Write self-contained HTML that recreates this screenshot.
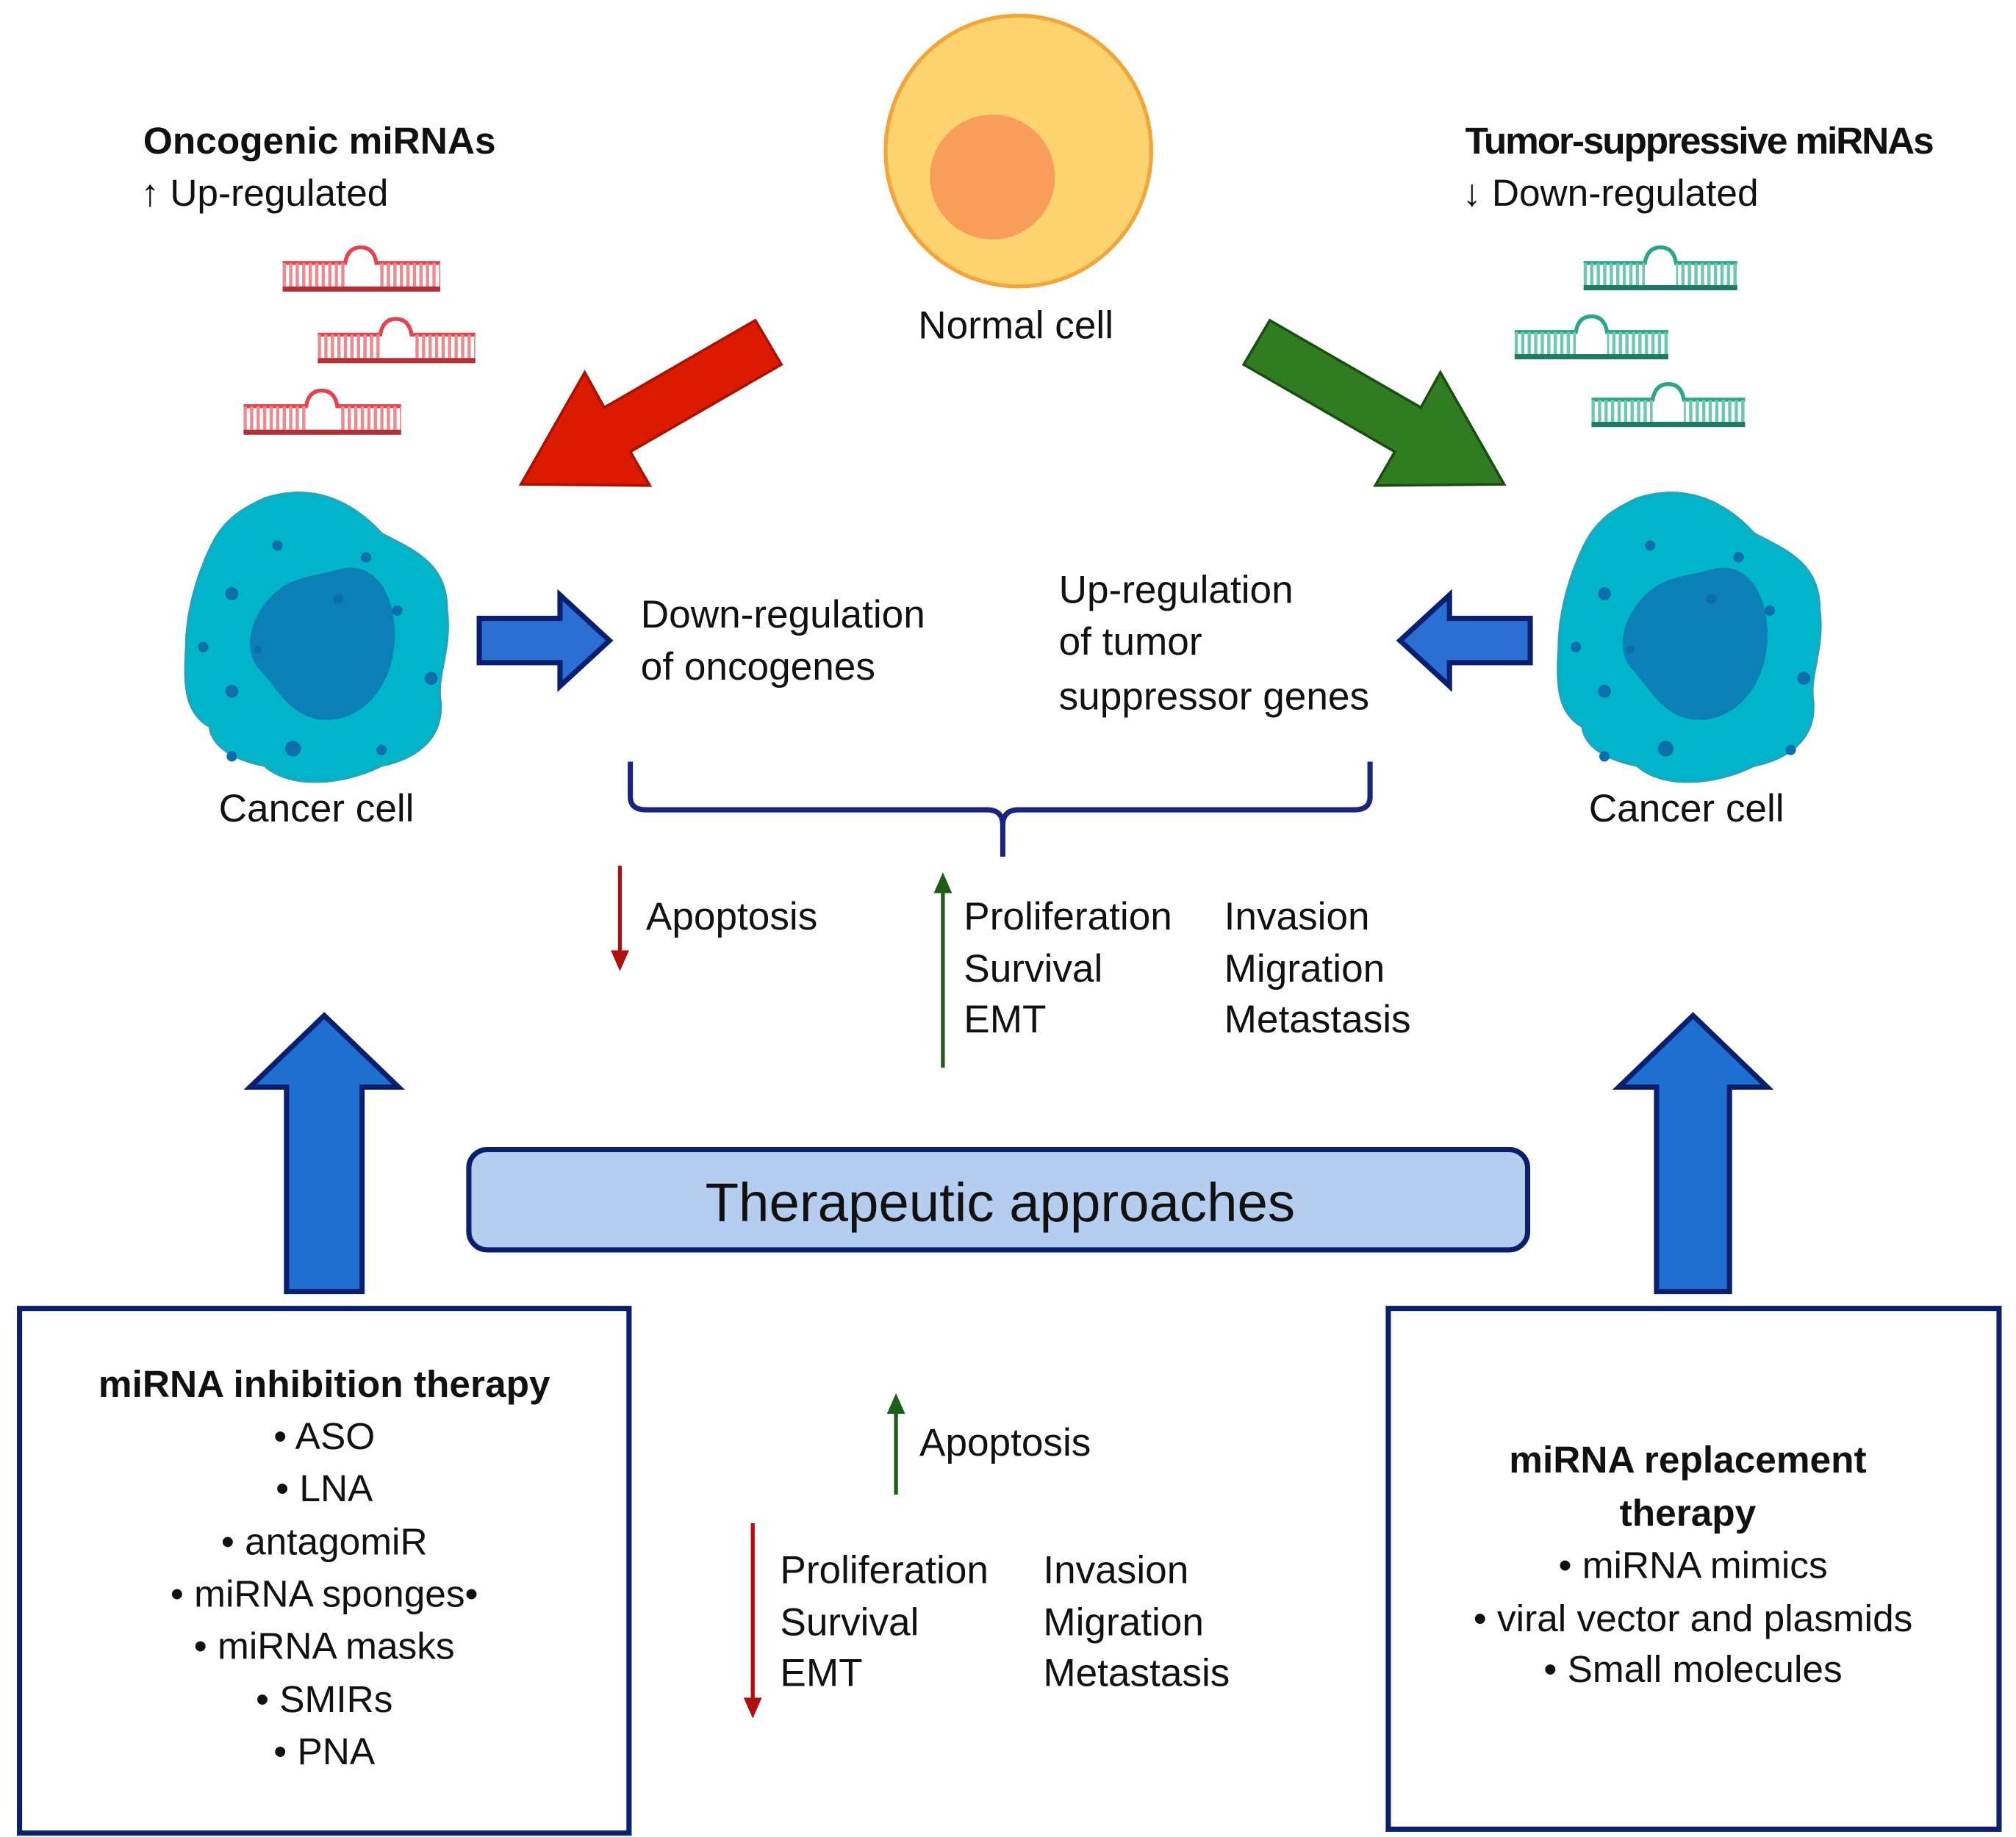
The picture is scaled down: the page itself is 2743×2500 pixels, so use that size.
<!DOCTYPE html>
<html><head><meta charset="utf-8"><style>
html,body{margin:0;padding:0;background:#fff}
svg{display:block}
text{font-family:"Liberation Sans",sans-serif;fill:#111}
</style></head><body>
<svg width="2743" height="2500" viewBox="0 0 1548 1411" preserveAspectRatio="none" xmlns="http://www.w3.org/2000/svg">
<defs>
<g id="hpR">
  <path d="M0 6 H48 Q50 -6 60 -6 Q70 -6 72 6 H121" fill="none" stroke="#e0454d" stroke-width="3"/>
  <rect x="0" y="6" width="48" height="18" fill="url(#stR)"/>
  <rect x="73" y="6" width="48" height="18" fill="url(#stR)"/>
  <rect x="0" y="24" width="121" height="4" fill="#b03038"/>
</g>
<pattern id="stR" width="5" height="20" patternUnits="userSpaceOnUse"><rect width="2.5" height="20" fill="#ec8a90"/></pattern>
<g id="hpG">
  <path d="M0 6 H47 Q49 -6 59 -6 Q69 -6 71 6 H118" fill="none" stroke="#2aa58a" stroke-width="3"/>
  <rect x="0" y="6" width="47" height="17" fill="url(#stG)"/>
  <rect x="71" y="6" width="47" height="17" fill="url(#stG)"/>
  <rect x="0" y="23" width="118" height="4" fill="#1d7a63"/>
</g>
<pattern id="stG" width="5" height="20" patternUnits="userSpaceOnUse"><rect width="2.5" height="20" fill="#6cc8b0"/></pattern>
</defs>

<!-- Normal cell -->
<ellipse cx="782" cy="116" rx="102" ry="104" fill="#fdd36f" stroke="#f3a53a" stroke-width="3"/>
<circle cx="762" cy="136" r="48" fill="#f99d5a"/>
<text x="780" y="260" font-size="30" text-anchor="middle">Normal cell</text>

<!-- Headers -->
<text x="110" y="118" font-size="29" font-weight="bold">Oncogenic miRNAs</text>
<text x="108" y="158" font-size="29">↑ Up-regulated</text>
<text x="1125" y="118" font-size="29" font-weight="bold" letter-spacing="-1.2">Tumor-suppressive miRNAs</text>
<text x="1123" y="158" font-size="29">↓ Down-regulated</text>

<!-- hairpins -->
<use href="#hpR" x="217" y="196"/>
<use href="#hpR" x="244" y="251"/>
<use href="#hpR" x="187" y="306"/>
<use href="#hpG" x="1216" y="196"/>
<use href="#hpG" x="1163" y="249"/>
<use href="#hpG" x="1222" y="301"/>

<!-- big diagonal arrows -->
<polygon points="580,246 600,280 484,347 499,373 400,372 449,286 464,313" fill="#dc1a00" stroke="#a81200" stroke-width="2"/>
<polygon points="975,246 955,280 1071,347 1056,373 1155,372 1106,286 1091,313" fill="#2f7d20" stroke="#1b4d12" stroke-width="2"/>

<!-- cancer cells -->
<g transform="translate(243,488)">
  <path d="M-40 -105 C0 -118 30 -100 50 -78 C75 -65 100 -55 100 -20 C104 10 92 30 95 50 C98 80 75 95 50 100 C20 115 -20 118 -40 100 C-65 95 -80 85 -82 70 C-100 60 -102 40 -100 10 C-100 -20 -90 -50 -80 -70 C-70 -90 -55 -98 -40 -105 Z" fill="#00b5c9" stroke="#20a6bc" stroke-width="2"/>
  <path d="M15 -50 C45 -60 62 -30 60 5 C58 40 35 65 8 65 C-20 65 -30 40 -45 25 C-60 5 -45 -25 -25 -38 C-10 -46 0 -46 15 -50 Z" fill="#0a80b7"/>
  <g fill="#0b6fae"><circle cx="-30" cy="-69" r="4"/><circle cx="38" cy="-60" r="4"/><circle cx="-65" cy="-32" r="5"/><circle cx="17" cy="-28" r="4"/><circle cx="62" cy="-19" r="4"/><circle cx="-87" cy="9" r="4"/><circle cx="-45" cy="11" r="3"/><circle cx="88" cy="33" r="5"/><circle cx="-65" cy="43" r="5"/><circle cx="-65" cy="93" r="4"/><circle cx="-18" cy="87" r="6"/><circle cx="50" cy="88" r="4"/></g>
</g>
<g transform="translate(1297,488)">
  <path d="M-40 -105 C0 -118 30 -100 50 -78 C75 -65 100 -55 100 -20 C104 10 92 30 95 50 C98 80 75 95 50 100 C20 115 -20 118 -40 100 C-65 95 -80 85 -82 70 C-100 60 -102 40 -100 10 C-100 -20 -90 -50 -80 -70 C-70 -90 -55 -98 -40 -105 Z" fill="#00b5c9" stroke="#20a6bc" stroke-width="2"/>
  <path d="M15 -50 C45 -60 62 -30 60 5 C58 40 35 65 8 65 C-20 65 -30 40 -45 25 C-60 5 -45 -25 -25 -38 C-10 -46 0 -46 15 -50 Z" fill="#0a80b7"/>
  <g fill="#0b6fae"><circle cx="-30" cy="-69" r="4"/><circle cx="38" cy="-60" r="4"/><circle cx="-65" cy="-32" r="5"/><circle cx="17" cy="-28" r="4"/><circle cx="62" cy="-19" r="4"/><circle cx="-87" cy="9" r="4"/><circle cx="-45" cy="11" r="3"/><circle cx="88" cy="33" r="5"/><circle cx="-65" cy="43" r="5"/><circle cx="-65" cy="93" r="4"/><circle cx="-18" cy="87" r="6"/><circle cx="78" cy="88" r="4"/></g>
</g>
<text x="243" y="631" font-size="30" text-anchor="middle">Cancer cell</text>
<text x="1295" y="631" font-size="30" text-anchor="middle">Cancer cell</text>

<!-- small blue arrows -->
<polygon points="368,475 430,475 430,457 468,492 430,527 430,509 368,509" fill="#2b6fd5" stroke="#0a1f6e" stroke-width="4"/>
<polygon points="1175,475 1113,475 1113,457 1075,492 1113,527 1113,509 1175,509" fill="#2b6fd5" stroke="#0a1f6e" stroke-width="4"/>

<text font-size="30"><tspan x="492" y="482">Down-regulation</tspan><tspan x="492" y="522">of oncogenes</tspan></text>
<text font-size="30"><tspan x="813" y="463">Up-regulation</tspan><tspan x="813" y="503">of tumor</tspan><tspan x="813" y="545">suppressor genes</tspan></text>

<!-- brace -->
<path d="M484 585 V612 Q484 622 496 622 H758 Q770 622 770 634 V658 M770 634 Q770 622 782 622 H1040 Q1052 622 1052 612 V585" fill="none" stroke="#1a237e" stroke-width="4"/>

<!-- upper effects -->
<line x1="476" y1="665" x2="476" y2="735" stroke="#b01010" stroke-width="3"/>
<polygon points="469,730 483,730 476,746" fill="#b01010"/>
<text x="496" y="714" font-size="30">Apoptosis</text>
<line x1="724" y1="820" x2="724" y2="682" stroke="#1e5e1a" stroke-width="3"/>
<polygon points="717,686 731,686 724,670" fill="#1e5e1a"/>
<text font-size="30"><tspan x="740" y="714">Proliferation</tspan><tspan x="740" y="754">Survival</tspan><tspan x="740" y="793">EMT</tspan></text>
<text font-size="30"><tspan x="940" y="714">Invasion</tspan><tspan x="940" y="754">Migration</tspan><tspan x="940" y="793">Metastasis</tspan></text>

<!-- big up arrows -->
<polygon points="220,992 220,835 192,835 249,780 306,835 278,835 278,992" fill="#1f6fd0" stroke="#0a1f6e" stroke-width="4"/>
<polygon points="1272,992 1272,835 1243,835 1300,780 1357,835 1328,835 1328,992" fill="#1f6fd0" stroke="#0a1f6e" stroke-width="4"/>

<!-- therapeutic box -->
<rect x="360" y="883" width="813" height="77" rx="14" fill="#b5cdee" stroke="#0a1f6e" stroke-width="4"/>
<text x="768" y="938" font-size="42" text-anchor="middle">Therapeutic approaches</text>

<!-- left box -->
<rect x="15" y="1005" width="468" height="403" fill="#fff" stroke="#0a1f6e" stroke-width="4"/>
<g font-size="29" text-anchor="middle">
<text x="249" y="1073" font-weight="bold">miRNA inhibition therapy</text>
<text x="249" y="1113">• ASO</text>
<text x="249" y="1153">• LNA</text>
<text x="249" y="1194">• antagomiR</text>
<text x="249" y="1234">• miRNA sponges•</text>
<text x="249" y="1274">• miRNA masks</text>
<text x="249" y="1315">• SMIRs</text>
<text x="249" y="1355">• PNA</text>
</g>

<!-- right box -->
<rect x="1066" y="1005" width="469" height="400" fill="#fff" stroke="#0a1f6e" stroke-width="4"/>
<g font-size="29" text-anchor="middle">
<text x="1296" y="1131" font-weight="bold">miRNA replacement</text>
<text x="1296" y="1172" font-weight="bold">therapy</text>
<text x="1300" y="1212">• miRNA mimics</text>
<text x="1300" y="1253">• viral vector and plasmids</text>
<text x="1300" y="1292">• Small molecules</text>
</g>

<!-- lower effects -->
<line x1="688" y1="1148" x2="688" y2="1082" stroke="#1e5e1a" stroke-width="3"/>
<polygon points="681,1086 695,1086 688,1070" fill="#1e5e1a"/>
<text x="706" y="1118" font-size="30">Apoptosis</text>
<line x1="578" y1="1170" x2="578" y2="1308" stroke="#b01010" stroke-width="3"/>
<polygon points="571,1304 585,1304 578,1320" fill="#b01010"/>
<text font-size="30"><tspan x="599" y="1216">Proliferation</tspan><tspan x="599" y="1256">Survival</tspan><tspan x="599" y="1295">EMT</tspan></text>
<text font-size="30"><tspan x="801" y="1216">Invasion</tspan><tspan x="801" y="1256">Migration</tspan><tspan x="801" y="1295">Metastasis</tspan></text>
</svg>
</body></html>
